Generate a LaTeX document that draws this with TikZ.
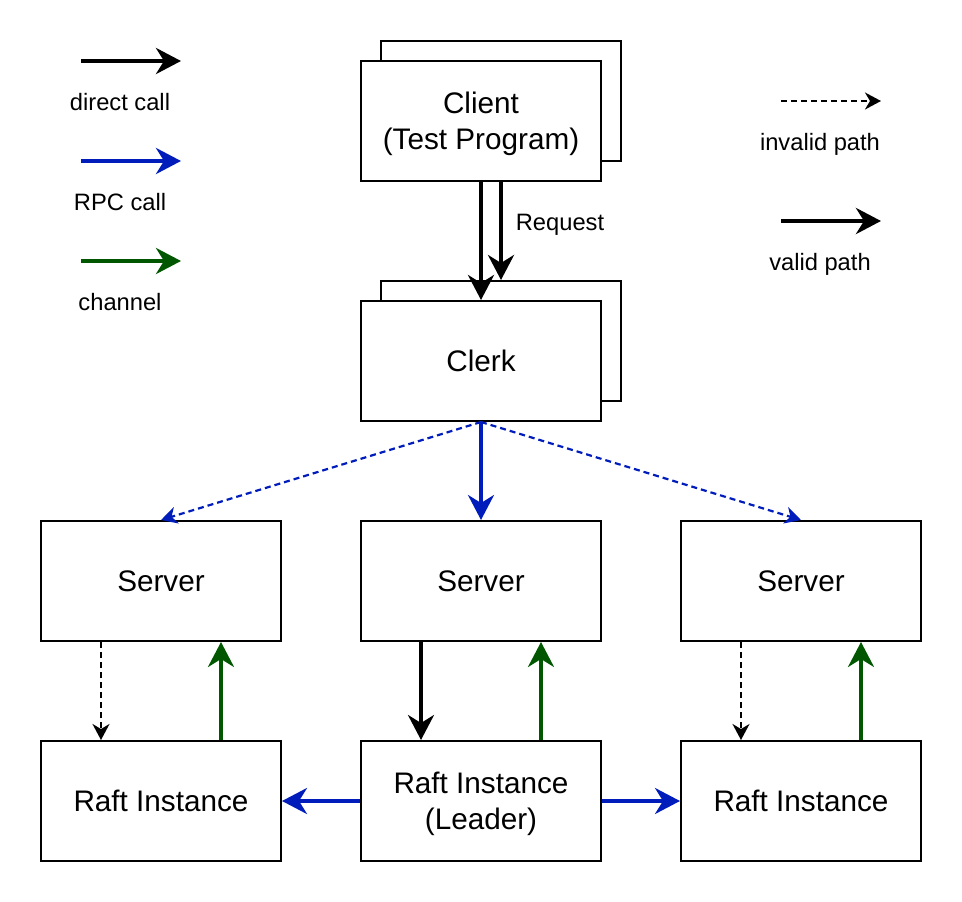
\documentclass[tikz,border=0pt]{standalone}
\usepackage{fontspec}
\setmainfont{Liberation Sans}
\usetikzlibrary{arrows.meta}
\definecolor{dblue}{HTML}{001DBC}
\definecolor{dgreen}{HTML}{005700}
\begin{document}
\begin{tikzpicture}[x=1pt,y=-1pt,
  box/.style={draw, line width=2pt, fill=white, minimum width=240pt, minimum height=120pt, inner sep=0pt, font=\fontsize{29.7}{36}\selectfont, align=center},
  twoline/.style={text depth=-1.5pt},
  lbl/.style={inner sep=0pt, text depth=0pt, font=\fontsize{23.7}{28}\selectfont},
  bigtip/.style={-{Stealth[length=25pt,width=26pt,inset=8pt]}},
  smalltip/.style={-{Stealth[length=16pt,width=17pt,inset=5pt]}},
  dashpat/.style={dash pattern=on 6pt off 4pt}
]
\useasboundingbox (0,0) rectangle (962,902);

% Client and Clerk (stacked)
\node[box] (clientback) at (501,101) {};
\node[box, twoline] (client) at (481,121) {Client\\(Test Program)};
\node[box] (clerkback) at (501,341) {};
\node[box] (clerk) at (481,361) {Clerk};

% Servers
\node[box] (s1) at (161,581) {Server};
\node[box] (s2) at (481,581) {Server};
\node[box] (s3) at (801,581) {Server};

% Raft instances
\node[box] (r1) at (161,801) {Raft Instance};
\node[box, twoline] (r2) at (481,801) {Raft Instance\\(Leader)};
\node[box] (r3) at (801,801) {Raft Instance};

% Request arrows
\draw[line width=4pt, bigtip] (client.south) -- (clerk.north);
\draw[line width=4pt, bigtip] (clientback.south |- client.south) -- (clerkback.north);
\node[lbl] (req) at (560,222) {Request};

% Clerk to servers
\draw[dblue, line width=3.5pt, bigtip] (clerk.south) -- (s2.north);
\draw[dblue, line width=2.2pt, dashpat, smalltip] (clerk.south) -- (s1.north);
\draw[dblue, line width=2.2pt, dashpat, smalltip] (clerk.south) -- (s3.north);

% Servers to rafts
\draw[line width=1.8pt, dashpat, smalltip] ([xshift=-60pt]s1.south) -- ([xshift=-60pt]r1.north);
\draw[dgreen, line width=3.5pt, bigtip] ([xshift=60pt]r1.north) -- ([xshift=60pt]s1.south);
\draw[line width=3.5pt, bigtip] ([xshift=-60pt]s2.south) -- ([xshift=-60pt]r2.north);
\draw[dgreen, line width=3.5pt, bigtip] ([xshift=60pt]r2.north) -- ([xshift=60pt]s2.south);
\draw[line width=1.8pt, dashpat, smalltip] ([xshift=-60pt]s3.south) -- ([xshift=-60pt]r3.north);
\draw[dgreen, line width=3.5pt, bigtip] ([xshift=60pt]r3.north) -- ([xshift=60pt]s3.south);

% Raft leader to followers
\draw[dblue, line width=3.5pt, bigtip] (r2.west) -- (r1.east);
\draw[dblue, line width=3.5pt, bigtip] (r2.east) -- (r3.west);

% Legend left
\coordinate (la1) at (81,61);  \coordinate (lb1) at (181,61);
\coordinate (la2) at (81,161); \coordinate (lb2) at (181,161);
\coordinate (la3) at (81,261); \coordinate (lb3) at (181,261);
\draw[line width=4pt, bigtip] (la1) -- (lb1);
\draw[dblue, line width=4pt, bigtip] (la2) -- (lb2);
\draw[dgreen, line width=4pt, bigtip] (la3) -- (lb3);
\node[lbl] (t1) at (120,102) {direct call};
\node[lbl] (t2) at (120,202) {RPC call};
\node[lbl] (t3) at (120,302) {channel};

% Legend right
\coordinate (ra1) at (781,101); \coordinate (rb1) at (881,101);
\coordinate (ra2) at (781,221); \coordinate (rb2) at (881,221);
\draw[line width=1.8pt, dashpat, smalltip] (ra1) -- (rb1);
\draw[line width=4.5pt, bigtip] (ra2) -- (rb2);
\node[lbl] (t4) at (820,142) {invalid path};
\node[lbl] (t5) at (820,262) {valid path};
\end{tikzpicture}
\end{document}
